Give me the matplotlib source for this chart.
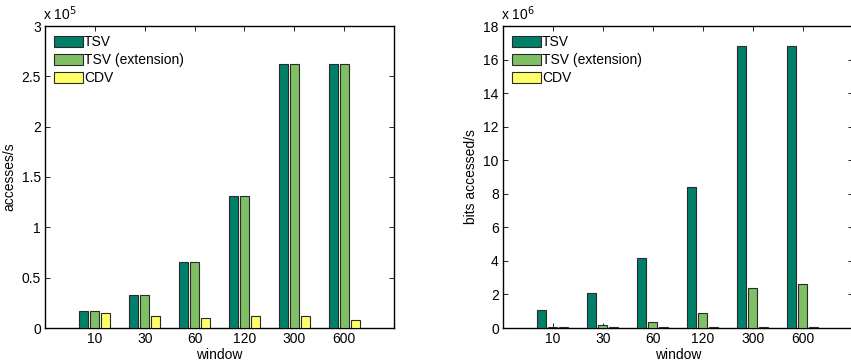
import numpy as np
import matplotlib; matplotlib.use("Agg")
import matplotlib.pyplot as plt

plt.rcParams["font.family"] = ["Liberation Sans", "DejaVu Sans"]
plt.rcParams["font.size"] = 10

windows = ["10", "30", "60", "120", "300", "600"]
series = ["TSV", "TSV (extension)", "CDV"]
colors = ["#008068", "#80c064", "#ffff66"]

# accesses/s (x 1e5)
acc_tsv = [0.166, 0.331, 0.656, 1.309, 2.62, 2.62]
acc_ext = [0.166, 0.331, 0.656, 1.309, 2.62, 2.62]
acc_cdv = [0.149, 0.123, 0.099, 0.123, 0.116, 0.083]

# bits accessed/s (x 1e6)
bits_tsv = [1.05, 2.1, 4.19, 8.39, 16.78, 16.78]
bits_ext = [0.08, 0.18, 0.38, 0.91, 2.37, 2.62]
bits_cdv = [0.03, 0.03, 0.03, 0.03, 0.03, 0.03]

fig = plt.figure(figsize=(8.51, 3.62), dpi=100)
ax1 = fig.add_axes([45/851, 34/362, 349/851, 302/362])
ax2 = fig.add_axes([503/851, 34/362, 350/851, 302/362])

x = np.arange(1, len(windows) + 1)
w, off = 0.18, 0.22

def panel(ax, data, ylim, yticks, yticklabels, ylabel, exp):
    for k, (vals, c, name) in enumerate(zip(data, colors, series)):
        ax.bar(x + (k - 1) * off, vals, w, color=c, edgecolor="#2a2a2a", lw=0.8, label=name, zorder=3)
    ax.set_xlim(0, 7)
    ax.set_ylim(*ylim)
    ax.set_xticks(x)
    ax.set_xticklabels(windows)
    ax.set_yticks(yticks)
    ax.set_yticklabels(yticklabels)
    ax.tick_params(direction="in", top=True, right=True, length=3.5, width=0.6, pad=3)
    for s in ax.spines.values():
        s.set_linewidth(1.0)
    ax.set_xlabel("window", labelpad=1)
    ax.set_ylabel(ylabel, labelpad=4)
    ax.text(-0.005, 1.01, r"x 10$^{%d}$" % exp, transform=ax.transAxes, ha="left", va="bottom", fontsize=10)
    ax.legend(loc="upper left", frameon=False, handlelength=2.1, handleheight=0.85,
              handletextpad=0.05, labelspacing=0.3, borderaxespad=0.45, borderpad=0.2)

panel(ax1, [acc_tsv, acc_ext, acc_cdv], (0, 3), np.arange(0, 3.01, 0.5),
      ["0", "0.5", "1", "1.5", "2", "2.5", "3"], "accesses/s", 5)
panel(ax2, [bits_tsv, bits_ext, bits_cdv], (0, 18), np.arange(0, 19, 2),
      [str(v) for v in range(0, 19, 2)], "bits accessed/s", 6)

fig.savefig("out.png", dpi=100)
